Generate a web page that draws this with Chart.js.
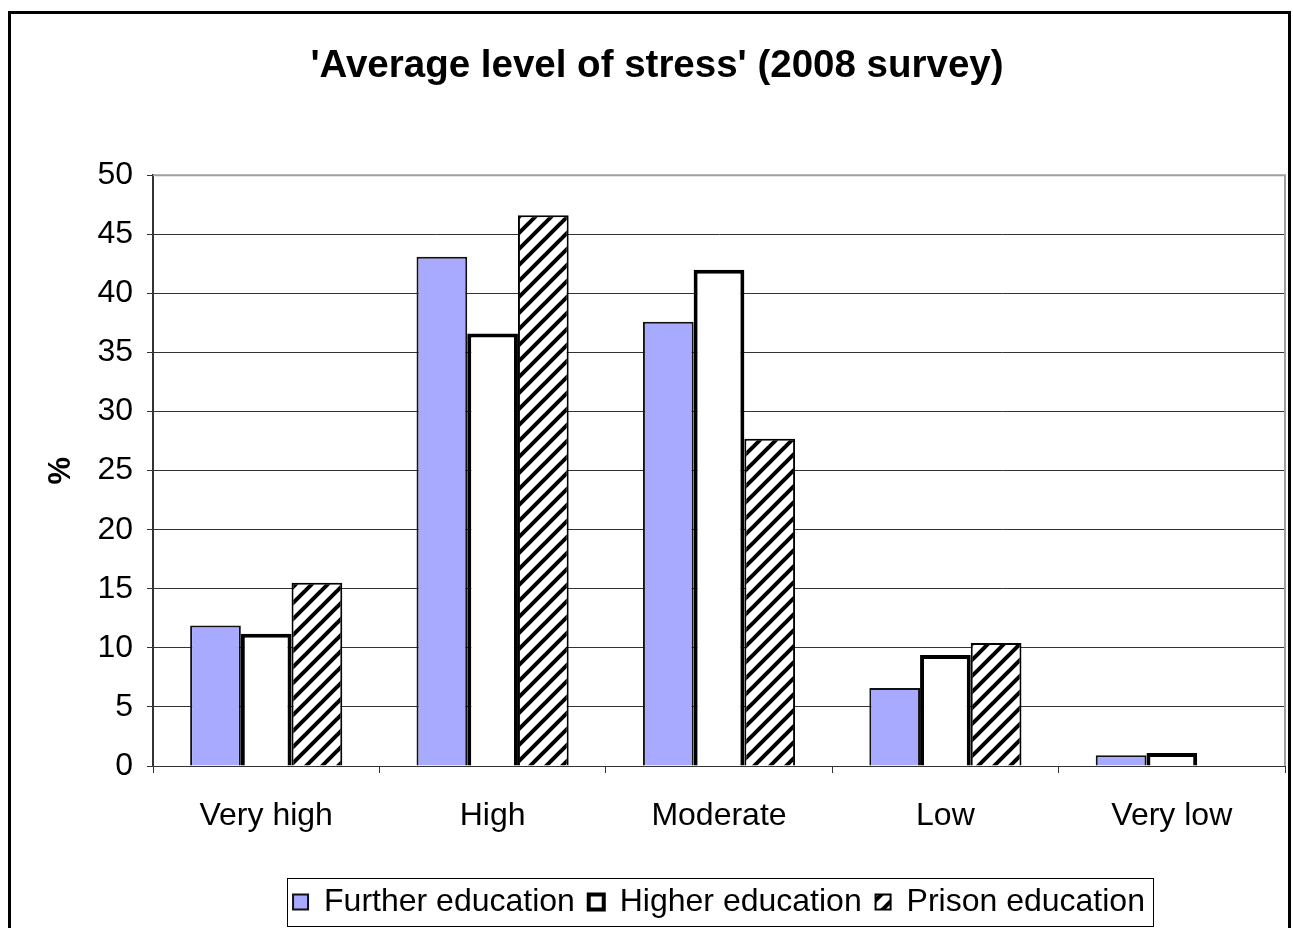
<!DOCTYPE html>
<html>
<head>
<meta charset="utf-8">
<script src="https://cdn.jsdelivr.net/npm/chart.js@4/dist/chart.umd.min.js"></script>
<style>
  html, body { margin: 0; padding: 0; background: #fff; overflow: hidden; }
  canvas { display: block; }
</style>
</head>
<body>
<canvas id="c" width="1293" height="928"></canvas>
<script>
// ---- data ----
const categories = ['Very high', 'High', 'Moderate', 'Low', 'Very low'];
const furtherEducation = [11.9, 43.1, 37.6, 6.6, 0.9];
const higherEducation = [11.2, 36.6, 42.0, 9.4, 1.1];
const prisonEducation = [15.5, 46.6, 27.7, 10.4, 0];
const seriesNames = ['Further education', 'Higher education', 'Prison education'];
const yTicks = [0, 5, 10, 15, 20, 25, 30, 35, 40, 45, 50];
const chartTitle = "'Average level of stress' (2008 survey)";
const yTitle = '%';

// ---- hatch pattern ----
function makeHatch() {
  const s = 16;
  const pc = document.createElement('canvas');
  pc.width = s; pc.height = s;
  const g = pc.getContext('2d');
  g.fillStyle = '#fff';
  g.fillRect(0, 0, s, s);
  g.strokeStyle = '#000';
  g.lineWidth = 4;
  for (const off of [-s, 0, s]) {
    g.beginPath();
    g.moveTo(-4 + off, s + 4);
    g.lineTo(s + 4 + off, -4);
    g.stroke();
  }
  return g.createPattern(pc, 'repeat');
}

const FONT = "'Liberation Sans', Arial, sans-serif";
Chart.defaults.font.family = FONT;
Chart.defaults.color = '#000';

const outerBorder = {
  id: 'outerBorder',
  beforeDraw(chart) {
    const ctx = chart.ctx;
    ctx.save();
    ctx.fillStyle = '#fff';
    ctx.fillRect(0, 0, chart.width, chart.height);
    ctx.strokeStyle = '#000';
    ctx.lineWidth = 3;
    ctx.strokeRect(9.5, 12.5, 1280, 1000);
    ctx.restore();
  },
  afterDatasetsDraw(chart) {
    const ctx = chart.ctx, a = chart.chartArea;
    ctx.save();
    ctx.strokeStyle = '#a0a0a0';
    ctx.lineWidth = 2;
    ctx.beginPath();
    ctx.moveTo(a.left, a.top);
    ctx.lineTo(a.right, a.top);
    ctx.lineTo(a.right, a.bottom);
    ctx.stroke();
    ctx.restore();
  },
  afterDraw(chart) {
    const lg = chart.legend;
    if (!lg || !lg.legendHitBoxes || !lg.legendHitBoxes.length) return;
    const hb = lg.legendHitBoxes;
    const first = hb[0], last = hb[hb.length - 1];
    const cy = first.top + first.height / 2;
    const l = Math.round(first.left - 6) + 0.5;
    const r = Math.round(last.left + last.width + 8) + 0.5;
    const t = Math.round(cy - 24) + 0.5;
    const b = Math.min(Math.round(cy + 27), 926) + 0.5;
    const ctx = chart.ctx;
    ctx.save();
    ctx.strokeStyle = '#000';
    ctx.lineWidth = 1;
    ctx.strokeRect(l, t, r - l, b - t);
    ctx.restore();
  }
};

new Chart(document.getElementById('c'), {
  type: 'bar',
  data: {
    labels: categories,
    datasets: [
      { label: seriesNames[0], data: furtherEducation, backgroundColor: '#a8aaff', borderColor: '#111', borderWidth: 2 },
      { label: seriesNames[1], data: higherEducation, backgroundColor: '#ffffff', borderColor: '#000', borderWidth: 4 },
      { label: seriesNames[2], data: prisonEducation, backgroundColor: makeHatch(), borderColor: '#000', borderWidth: 2 }
    ]
  },
  options: {
    responsive: false,
    animation: false,
    devicePixelRatio: 1,
    layout: { padding: { left: 29, right: 8, top: 0, bottom: 0 } },
    datasets: { bar: { barPercentage: 1.0, categoryPercentage: 0.672 } },
    plugins: {
      tooltip: { enabled: false },
      title: {
        display: true,
        text: chartTitle,
        color: '#000',
        font: { family: FONT, size: 38.5, weight: 'bold' },
        padding: { top: 43, bottom: 86 }
      },
      legend: {
        position: 'bottom',
        fullSize: false,
        labels: {
          font: { family: FONT, size: 32 },
          color: '#000',
          boxWidth: 15,
          boxHeight: 15,
          padding: 5,
          generateLabels(chart) {
            const items = Chart.defaults.plugins.legend.labels.generateLabels(chart);
            items.forEach((it, i) => { if (i < items.length - 1) it.text = it.text + ' '; });
            return items;
          }
        }
      }
    },
    scales: {
      x: {
        grid: { display: true, drawOnChartArea: false, drawTicks: true, tickLength: 7, color: '#333', offset: true },
        border: { display: true, color: '#333', width: 1 },
        ticks: { font: { family: FONT, size: 32 }, color: '#000', padding: 24, maxRotation: 0, autoSkip: false },
        afterFit(s) { s.height = 115; }
      },
      y: {
        min: 0,
        max: 50,
        afterBuildTicks(s) { s.ticks = yTicks.map(v => ({ value: v })); },
        ticks: { font: { family: FONT, size: 32 }, color: '#000', padding: 14 },
        grid: {
          color: c => (c.tick && c.tick.value === 50) ? '#a0a0a0' : '#333',
          tickColor: '#333',
          tickLength: 6,
          drawTicks: true
        },
        border: { display: true, color: '#333', width: 2 },
        title: {
          display: true,
          text: yTitle,
          color: '#000',
          font: { family: FONT, size: 31, weight: 'bold' },
          padding: { top: 14, bottom: 0 }
        },
        afterFit(s) { s.width = 124; }
      }
    }
  },
  plugins: [outerBorder]
});
</script>
</body>
</html>
